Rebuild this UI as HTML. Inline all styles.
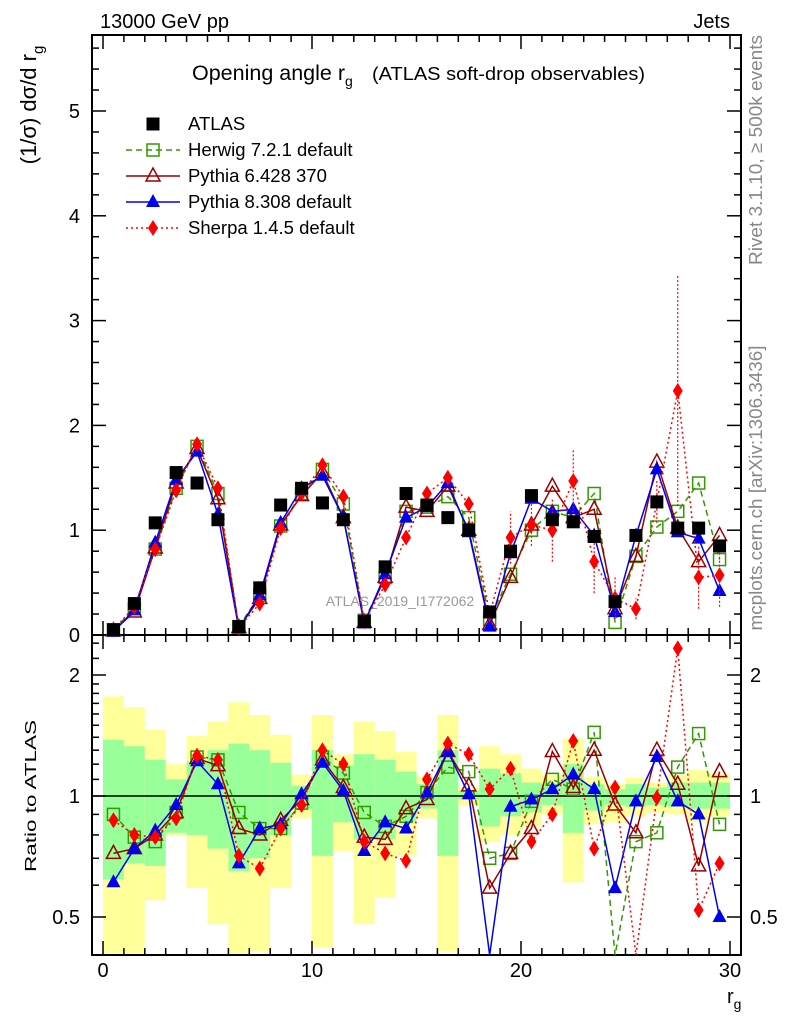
<!DOCTYPE html>
<html><head><meta charset="utf-8"><style>
html,body{margin:0;padding:0;background:#fff;}
svg{display:block;font-family:"Liberation Sans",sans-serif;}
</style></head><body>
<svg id="c" width="786" height="1024" viewBox="0 0 786 1024">
<text x="100" y="28" font-size="20">13000 GeV pp</text>
<text x="730" y="28" font-size="20" text-anchor="end">Jets</text>
<text transform="translate(36,105) rotate(-90)" font-size="22" text-anchor="middle">(1/σ) dσ/d r<tspan font-size="15" dy="7">g</tspan></text>
<text x="192" y="80" font-size="21.5">Opening angle r<tspan font-size="14" dy="6">g</tspan><tspan dy="-6" font-size="18" x="372" textLength="273" lengthAdjust="spacingAndGlyphs">(ATLAS soft-drop observables)</tspan></text>
<text transform="translate(762,150) rotate(-90)" font-size="18" fill="#888" text-anchor="middle" textLength="230" lengthAdjust="spacingAndGlyphs">Rivet 3.1.10, ≥ 500k events</text>
<text transform="translate(762,488) rotate(-90)" font-size="18" fill="#888" text-anchor="middle" textLength="285" lengthAdjust="spacingAndGlyphs">mcplots.cern.ch [arXiv:1306.3436]</text>
<text x="400" y="606" font-size="14" fill="#999" text-anchor="middle">ATLAS_2019_I1772062</text>
<text transform="translate(36,796) rotate(-90)" font-size="16" text-anchor="middle" textLength="152" lengthAdjust="spacingAndGlyphs">Ratio to ATLAS</text>
<text x="727" y="1003" font-size="20">r<tspan font-size="14" dy="6">g</tspan></text>
</svg>
<script>
const bins=[0.5,1.5,2.5,3.5,4.5,5.5,6.5,7.5,8.5,9.5,10.5,11.5,12.5,13.5,14.5,15.5,16.5,17.5,18.5,19.5,20.5,21.5,22.5,23.5,24.5,25.5,26.5,27.5,28.5,29.5];
const atlas=[0.05,0.3,1.07,1.55,1.45,1.1,0.08,0.45,1.24,1.40,1.26,1.1,0.13,0.65,1.35,1.24,1.12,1.0,0.22,0.8,1.33,1.1,1.08,0.94,0.32,0.95,1.27,1.02,1.02,0.85];
const herwig=[0.05,0.25,0.82,1.40,1.80,1.35,0.08,0.38,1.04,1.35,1.58,1.25,0.14,0.55,1.18,1.22,1.32,1.12,0.15,0.58,1.0,1.18,1.12,1.35,0.12,0.75,1.03,1.18,1.45,0.72];
const pythia6=[0.04,0.22,0.83,1.45,1.78,1.30,0.07,0.35,1.05,1.33,1.55,1.12,0.12,0.55,1.22,1.18,1.42,1.0,0.1,0.55,1.05,1.42,1.12,1.2,0.25,0.75,1.65,1.02,0.7,0.95];
const pythia8=[0.03,0.24,0.88,1.48,1.75,1.15,0.06,0.38,1.07,1.40,1.52,1.12,0.11,0.58,1.12,1.22,1.45,0.98,0.08,0.78,1.3,1.18,1.2,0.95,0.22,0.95,1.58,0.98,0.92,0.42];
const sherpa=[0.05,0.27,0.82,1.38,1.82,1.40,0.07,0.30,1.02,1.35,1.62,1.32,0.13,0.48,0.93,1.35,1.50,1.25,0.2,0.93,1.05,1.0,1.47,0.7,0.35,0.25,1.27,2.33,0.55,0.57];
const sherpaErr=[0,0,0,0,0,0,0,0,0,0,0,0,0,0,0,0,0,0,0,0.25,0.2,0.3,0.3,0.3,0.2,0.1,0.2,1.1,0.3,0.3];
const rHerwig=[0.90,0.79,0.77,0.91,1.25,1.23,0.91,0.83,0.83,0.96,1.25,1.14,0.91,0.84,0.89,1.02,1.18,1.15,0.70,0.72,0.97,1.10,1.04,1.44,0.3,0.77,0.81,1.18,1.43,0.85];
const rPythia6=[0.72,0.74,0.80,0.91,1.24,1.19,0.83,0.80,0.87,0.98,1.23,1.05,0.79,0.78,0.93,0.98,1.29,1.06,0.59,0.72,0.83,1.29,1.05,1.30,0.95,0.81,1.30,1.07,0.67,1.15];
const rPythia8=[0.61,0.74,0.82,0.95,1.22,1.07,0.68,0.83,0.85,1.01,1.21,1.03,0.73,0.86,0.83,1.02,1.29,1.01,0.38,0.94,0.98,1.04,1.13,1.04,0.59,0.97,1.25,0.97,0.90,0.50];
const rSherpa=[0.87,0.80,0.79,0.88,1.26,1.23,0.71,0.66,0.83,0.95,1.30,1.20,0.77,0.72,0.69,1.10,1.35,1.27,1.04,1.17,0.77,0.90,1.37,0.74,1.05,0.25,0.99,2.33,0.52,0.68];
const yelHi=[1.77,1.66,1.46,1.20,1.41,1.53,1.71,1.59,1.42,1.13,1.59,1.27,1.53,1.45,1.29,1.12,1.59,1.05,1.33,1.27,1.17,1.13,1.39,1.11,1.07,1.11,1.08,1.13,1.16,1.14];
const yelLo=[0.3,0.3,0.55,0.80,0.59,0.48,0.3,0.41,0.59,0.88,0.42,0.73,0.48,0.56,0.71,0.88,0.41,0.95,0.77,0.80,0.84,0.90,0.61,0.85,0.86,0.89,0.91,0.90,0.86,0.89];
const grnHi=[1.38,1.33,1.23,1.10,1.22,1.30,1.35,1.30,1.21,1.06,1.30,1.19,1.27,1.23,1.15,1.07,1.30,1.03,1.17,1.14,1.08,1.07,1.20,1.07,1.04,1.07,1.05,1.08,1.08,1.08];
const grnLo=[0.62,0.68,0.67,0.81,0.80,0.74,0.65,0.70,0.80,0.93,0.71,0.86,0.78,0.78,0.86,0.93,0.71,0.98,0.84,0.89,0.91,0.95,0.81,0.92,0.95,0.94,0.95,0.94,0.93,0.93];
const mainTicks=[0,1,2,3,4,5];
const ratioTicks=[0.5,1,2];
const xTicks=[0,10,20,30];

const NS="http://www.w3.org/2000/svg";
const svg=document.getElementById('c');
const L=92,R=741,MT=35,MB=635,RT=635,RB=955;
const X=v=>103+v*20.9;
const Y=v=>635-v*104.8;
const YR=r=>{let y=796-Math.log2(r)*121;return Math.max(RT,Math.min(RB,y));};
function mk(t,a,p){const e=document.createElementNS(NS,t);for(const k in a)e.setAttribute(k,a[k]);(p||svg).appendChild(e);return e;}

const bandG=mk('g',{});


bins.forEach((b,i)=>{
  const y1=YR(yelHi[i]),y2=YR(yelLo[i]);
  const ry=mk('rect',{x:X(b-0.5),y:y1,width:20.9,height:y2-y1,fill:'#ffff99'},bandG);
  
  
  const g1=YR(grnHi[i]),g2=YR(grnLo[i]);
  const rg=mk('rect',{x:X(b-0.5),y:g1,width:20.9,height:g2-g1,fill:'#99ff99'},bandG);
  
  
});
mk('line',{x1:L,x2:R,y1:YR(1),y2:YR(1),stroke:'#000','stroke-width':1.5});

const f1=mk('rect',{x:L,y:MT,width:R-L,height:MB-MT,fill:'none',stroke:'#000','stroke-width':2});


const f2=mk('rect',{x:L,y:RT,width:R-L,height:RB-RT,fill:'none',stroke:'#000','stroke-width':2});



for(let v=0;v<=5.7;v+=0.2){const y=Y(v);if(y<MT)break;const maj=Math.abs(v-Math.round(v))<1e-6;const w=maj?14:7;
 mk('line',{x1:L,x2:L+w,y1:y,y2:y,stroke:'#000','stroke-width':1.5});mk('line',{x1:R-w,x2:R,y1:y,y2:y,stroke:'#000','stroke-width':1.5});}
mainTicks.forEach(t=>{const e=mk('text',{x:80,y:Y(t)+7,'font-size':20,'text-anchor':'end'});e.textContent=t;
 
 });
[0.4,0.5,0.6,0.7,0.8,0.9,1,1.1,1.2,1.3,1.4,1.5,1.6,1.7,1.8,1.9,2,2.2,2.4].forEach(v=>{const y=796-Math.log2(v)*121;if(y<RT||y>RB)return;const maj=(v==0.5||v==1||v==2);const w=maj?14:7;
 mk('line',{x1:L,x2:L+w,y1:y,y2:y,stroke:'#000','stroke-width':1.5});mk('line',{x1:R-w,x2:R,y1:y,y2:y,stroke:'#000','stroke-width':1.5});});
ratioTicks.forEach(t=>{const e=mk('text',{x:80,y:YR(t)+7,'font-size':20,'text-anchor':'end'});e.textContent=t;
 
 
 const e2=mk('text',{x:750,y:YR(t)+7,'font-size':20});e2.textContent=t;
 
 });
for(let v=0;v<=30.5;v+=1){const x=X(v);if(x>R)break;const maj=v%10==0;const h=maj?14:7;
 [[MB,-1],[RB,-1],[MT,1],[RT,1]].forEach(([yb,d])=>mk('line',{x1:x,x2:x,y1:yb,y2:yb+d*h,stroke:'#000','stroke-width':1.5}));}
xTicks.forEach(t=>{const e=mk('text',{x:X(t),y:977,'font-size':20,'text-anchor':'middle'});e.textContent=t;
 
 });

function marker(g,type,x,y,col){
 if(type=='sq')mk('rect',{x:x-6.5,y:y-6.5,width:13,height:13,fill:'#000'},g);
 else if(type=='osq')mk('rect',{x:x-6,y:y-6,width:12,height:12,fill:'none',stroke:col,'stroke-width':1.5},g);
 else if(type=='otri')mk('path',{d:`M${x},${y-8}L${x+7},${y+5}L${x-7},${y+5}Z`,fill:'none',stroke:col,'stroke-width':1.5},g);
 else if(type=='tri')mk('path',{d:`M${x},${y-8}L${x+7},${y+5}L${x-7},${y+5}Z`,fill:col},g);
 else if(type=='dia')mk('path',{d:`M${x},${y-8}L${x+5},${y}L${x},${y+8}L${x-5},${y}Z`,fill:col},g);
}
const series=[
 {name:'herwig',vals:herwig,rat:rHerwig,col:'#339900',dash:'6,4',m:'osq'},
 {name:'pythia6',vals:pythia6,rat:rPythia6,col:'#990000',dash:'',m:'otri'},
 {name:'pythia8',vals:pythia8,rat:rPythia8,col:'#0000ee',dash:'',m:'tri'},
 {name:'sherpa',vals:sherpa,rat:rSherpa,col:'#ff0000',dash:'2,3',m:'dia'}];
series.forEach(s=>{
 const g=mk('g',{});
 
 
 mk('polyline',{points:bins.map((b,i)=>X(b)+','+Y(s.vals[i])).join(' '),fill:'none',stroke:s.col,'stroke-width':1.5,'stroke-dasharray':s.dash},g);
 if(s.name=='sherpa')bins.forEach((b,i)=>{if(sherpaErr[i]>0)mk('line',{x1:X(b),x2:X(b),y1:Y(s.vals[i]-sherpaErr[i]),y2:Y(s.vals[i]+sherpaErr[i]),stroke:s.col,'stroke-width':1.2,'stroke-dasharray':'2,2'},g);});
 bins.forEach((b,i)=>marker(g,s.m,X(b),Y(s.vals[i]),s.col));
 const g2=mk('g',{});
 
 
 mk('polyline',{points:bins.map((b,i)=>X(b)+','+YR(s.rat[i])).join(' '),fill:'none',stroke:s.col,'stroke-width':1.5,'stroke-dasharray':s.dash},g2);
 bins.forEach((b,i)=>{const y=YR(s.rat[i]);if(y<RB&&y>RT)marker(g2,s.m,X(b),y,s.col);});
});
const ga=mk('g',{});


bins.forEach((b,i)=>marker(ga,'sq',X(b),Y(atlas[i]),'#000'));

const leg=[['ATLAS','sq','#000',''],['Herwig 7.2.1 default','osq','#339900','6,4'],['Pythia 6.428 370','otri','#990000',''],['Pythia 8.308 default','tri','#0000ee',''],['Sherpa 1.4.5 default','dia','#ff0000','2,3']];
leg.forEach((l,i)=>{const y=124+i*26;const g=mk('g',{});
 
 
 if(i>0)mk('line',{x1:126,x2:180,y1:y,y2:y,stroke:l[2],'stroke-width':1.5,'stroke-dasharray':l[3]},g);
 marker(g,l[1],153,y,l[2]);
 const t=mk('text',{x:188,y:y+6,'font-size':18.5},g);t.textContent=l[0];});
</script>
</body></html>
